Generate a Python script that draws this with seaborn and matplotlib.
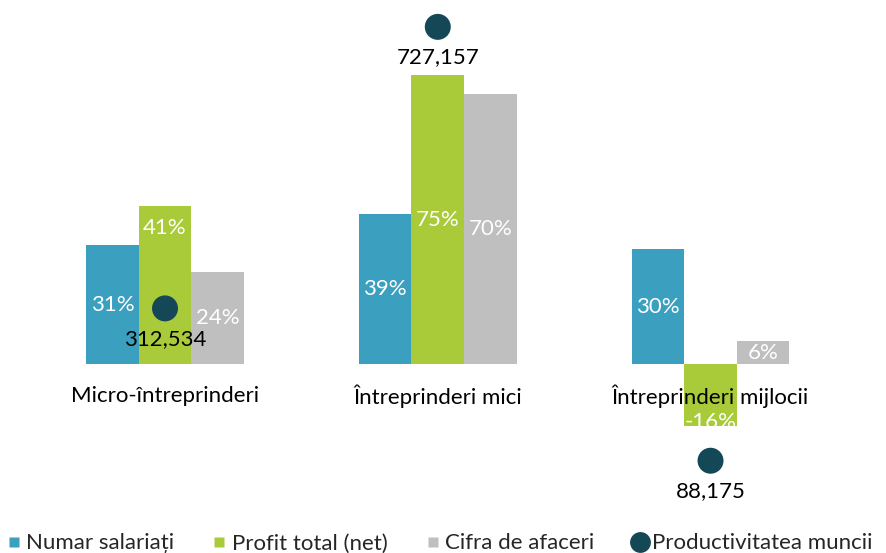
import matplotlib
matplotlib.use("Agg")
import matplotlib.pyplot as plt
from matplotlib.lines import Line2D
import numpy as np
import pandas as pd
import seaborn as sns

# Data
groups = ["Micro-întreprinderi", "Întreprinderi mici", "Întreprinderi mijlocii"]
series = ["Numar salariați", "Profit total (net)", "Cifra de afaceri"]
numar_salariati = [31, 39, 30]
profit_total = [41, 75, -16]
cifra_afaceri = [24, 70, 6]
productivitate = [312534, 727157, 88175]
productivitate_label = "Productivitatea muncii"

colors = ["#3BA0BF", "#A9CB3A", "#BFBFBF"]
dot_color = "#154857"

sns.set_theme(style="white")
plt.rcParams["font.family"] = ["Lato", "DejaVu Sans"]
FS = 16

df = pd.DataFrame({
    "group": groups * 3,
    "series": [s for s in series for _ in groups],
    "value": numar_salariati + profit_total + cifra_afaceri,
})

fig = plt.figure(figsize=(8.87, 5.53), dpi=100)
ax = fig.add_axes([0, 1 - 510 / 553, 1, 500 / 553])

sns.barplot(data=df, x="group", y="value", hue="series", order=groups,
            hue_order=series, palette=colors, width=0.578, saturation=1,
            errorbar=None, legend=False, linewidth=0, ax=ax)

ax.set_xlim(-0.605, 2.647)
ax.set_ylim(-37.7, 91.8)
ax.set_axis_off()

# value labels inside bars (relative position along the bar)
label_pos = {(1, 0): 0.86, (1, 2): 0.93}
for si, cont in enumerate(ax.containers):
    for gi, patch in enumerate(cont.patches):
        v = patch.get_height()
        frac = label_pos.get((si, gi), 0.5)
        x = patch.get_x() + patch.get_width() / 2
        ax.text(x, patch.get_y() + v * frac, f"{v:.0f}%", ha="center",
                va="center", color="white", fontsize=FS, zorder=5)

# category names
for gi, g in enumerate(groups):
    ax.text(gi, -8.2, g, ha="center", va="center", color="black",
            fontsize=FS, zorder=6)

# productivity on secondary axis
ax2 = ax.twinx()
ax2.set_ylim(15611, 751988)
ax2.set_axis_off()
pos = np.arange(len(groups))
sns.scatterplot(x=pos, y=productivitate, color=dot_color, s=350,
                edgecolor="none", ax=ax2, zorder=7, legend=False)
for x, v in zip(pos, productivitate):
    ax2.annotate(f"{v:,}", (x, v), xytext=(0, -22), textcoords="offset points",
                 ha="center", va="center", fontsize=FS, color="black",
                 zorder=8)
ax2.set_xlim(-0.605, 2.647)

# legend
handles = [Line2D([], [], marker="s", linestyle="none", markersize=7,
                  markerfacecolor=c, markeredgecolor="none") for c in colors]
handles.append(Line2D([], [], marker="o", linestyle="none", markersize=15,
                      markerfacecolor=dot_color, markeredgecolor="none"))
fig.legend(handles, series + [productivitate_label], loc="lower center",
           bbox_to_anchor=(0.494, -0.033), ncol=4, frameon=False,
           fontsize=FS, handletextpad=0.1, columnspacing=1.6,
           handlelength=0.9, borderpad=0.3)

fig.savefig("out.png", dpi=100)
